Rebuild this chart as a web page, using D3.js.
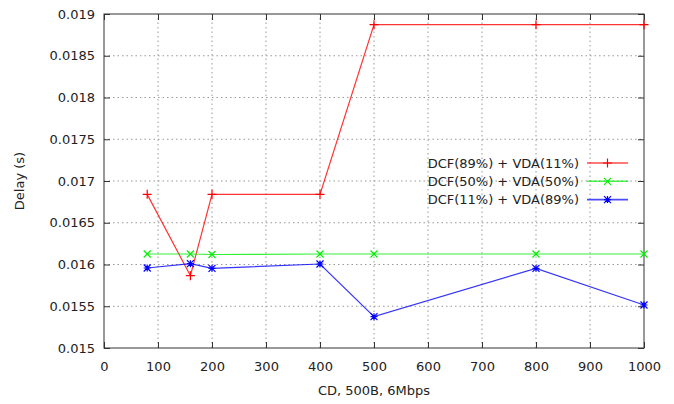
<!DOCTYPE html>
<html>
<head>
<meta charset="utf-8">
<script src="https://cdn.jsdelivr.net/npm/d3@7"></script>
<style>
  body { margin: 0; background: #fff; }
  text { font-family: "DejaVu Sans", sans-serif; font-size: 13px; fill: #222; }
  .grid line { stroke: #999; stroke-dasharray: 1.5,3; }
</style>
</head>
<body>
<div id="chart"></div>
<script>
// x values (CD) and delay series
var xVals = [80, 160, 200, 400, 500, 800, 1000];
var red = [0.01684, 0.015866, 0.01684, 0.01684, 0.018872, 0.018872, 0.018872];
var green = [0.016126, 0.016126, 0.01612, 0.016126, 0.016126, 0.016126, 0.016126];
var blue = [0.015958, 0.01601, 0.015954, 0.016006, 0.015375, 0.015954, 0.015515];
var seriesNames = ["DCF(89%) + VDA(11%)", "DCF(50%) + VDA(50%)", "DCF(11%) + VDA(89%)"];
var xTicks = [0, 100, 200, 300, 400, 500, 600, 700, 800, 900, 1000];
var yTicks = [0.015, 0.0155, 0.016, 0.0165, 0.017, 0.0175, 0.018, 0.0185, 0.019];

var width = 674, height = 404;
var margin = {left: 104, right: 30, top: 14, bottom: 56};

var svg = d3.select("#chart").append("svg")
  .attr("width", width)
  .attr("height", height);

var x = d3.scaleLinear().domain([0, 1000]).range([margin.left, width - margin.right]);
var y = d3.scaleLinear().domain([0.015, 0.019]).range([height - margin.bottom, margin.top]);

/* grid */
var grid = svg.append("g").attr("class", "grid");
grid.selectAll(".gx").data(xTicks.slice(1, -1)).enter().append("line")
  .attr("x1", d => x(d)).attr("x2", d => x(d))
  .attr("y1", y(0.015)).attr("y2", y(0.019));
grid.selectAll(".gy").data(yTicks.slice(1, -1)).enter().append("line")
  .attr("y1", d => y(d)).attr("y2", d => y(d))
  .attr("x1", x(0)).attr("x2", x(1000));

/* axes, ticks pointing inward, mirrored */
var axB = svg.append("g").attr("transform", "translate(0," + y(0.015) + ")")
  .call(d3.axisBottom(x).tickValues(xTicks).tickSizeInner(-6).tickSizeOuter(0).tickPadding(14)
    .tickFormat(d => d + ""));
var axT = svg.append("g").attr("transform", "translate(0," + y(0.019) + ")")
  .call(d3.axisTop(x).tickValues(xTicks).tickSizeInner(-6).tickSizeOuter(0).tickFormat(""));
var axL = svg.append("g").attr("transform", "translate(" + x(0) + ",0)")
  .call(d3.axisLeft(y).tickValues(yTicks).tickSizeInner(-6).tickSizeOuter(0).tickPadding(9)
    .tickFormat(d => +d.toPrecision(4) + ""));
var axR = svg.append("g").attr("transform", "translate(" + x(1000) + ",0)")
  .call(d3.axisRight(y).tickValues(yTicks).tickSizeInner(-6).tickSizeOuter(0).tickFormat(""));
[axB, axT, axL, axR].forEach(function(a) {
  a.select(".domain").remove();
  a.selectAll("line").attr("stroke", "#333");
  a.selectAll("text").style("font-size", "13px").attr("fill", "#222");
});

svg.append("rect")
  .attr("x", x(0)).attr("y", y(0.019))
  .attr("width", x(1000) - x(0)).attr("height", y(0.015) - y(0.019))
  .attr("fill", "none").attr("stroke", "#333").attr("stroke-width", 1);

/* axis titles */
svg.append("text")
  .attr("transform", "translate(24," + ((y(0.015) + y(0.019)) / 2) + ") rotate(-90)")
  .attr("text-anchor", "middle")
  .text("Delay (s)");
svg.append("text")
  .attr("x", (x(0) + x(1000)) / 2).attr("y", 395)
  .attr("text-anchor", "middle")
  .text("CD, 500B, 6Mbps");

/* markers */
function markerPath(type, s) {
  var plus = "M" + (-s) + ",0H" + s + "M0," + (-s) + "V" + s;
  var cross = "M" + (-s) + "," + (-s) + "L" + s + "," + s + "M" + (-s) + "," + s + "L" + s + "," + (-s);
  if (type === "plus") return plus;
  if (type === "cross") return cross;
  return plus + cross;
}

var series = [
  {name: seriesNames[0], values: red, color: "#ff0000", marker: "plus"},
  {name: seriesNames[1], values: green, color: "#00ee00", marker: "cross"},
  {name: seriesNames[2], values: blue, color: "#0000ff", marker: "star"}
];

var line = d3.line().x(d => x(d[0])).y(d => y(d[1]));

series.forEach(function(s) {
  var pts = xVals.map((v, i) => [v, s.values[i]]);
  var g = svg.append("g");
  g.append("path").datum(pts)
    .attr("d", line)
    .attr("fill", "none")
    .attr("stroke", s.color)
    .attr("stroke-opacity", 0.8)
    .attr("stroke-width", 1.2);
  g.selectAll(".m").data(pts).enter().append("path")
    .attr("transform", d => "translate(" + x(d[0]) + "," + y(d[1]) + ")")
    .attr("d", markerPath(s.marker, s.marker === "plus" ? 4.5 : 3.5))
    .attr("fill", "none")
    .attr("stroke", s.color)
    .attr("stroke-width", 1.2);
});

/* legend */
var legend = svg.append("g");
series.forEach(function(s, i) {
  var ly = 163 + i * 18.3;
  legend.append("text")
    .attr("x", 579).attr("y", ly).attr("dy", "0.35em")
    .attr("text-anchor", "end")
    .text(s.name);
  legend.append("line")
    .attr("x1", 587).attr("x2", 628).attr("y1", ly).attr("y2", ly)
    .attr("stroke", s.color).attr("stroke-opacity", 0.7).attr("stroke-width", 1.6);
  legend.append("path")
    .attr("transform", "translate(607.5," + ly + ")")
    .attr("d", markerPath(s.marker, s.marker === "plus" ? 4.5 : 3.5))
    .attr("fill", "none").attr("stroke", s.color).attr("stroke-width", 1.2);
});
</script>
</body>
</html>
